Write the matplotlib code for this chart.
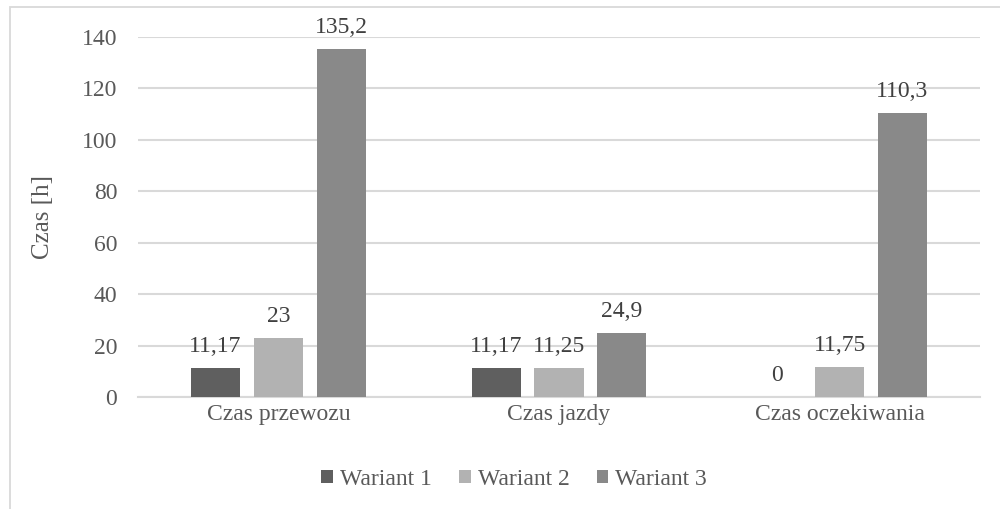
import numpy as np
import matplotlib.pyplot as plt
from matplotlib.patches import Rectangle

categories = ["Czas przewozu", "Czas jazdy", "Czas oczekiwania"]
series_names = ["Wariant 1", "Wariant 2", "Wariant 3"]
wariant_1 = [11.17, 11.17, 0]
wariant_2 = [23, 11.25, 11.75]
wariant_3 = [135.2, 24.9, 110.3]
labels_1 = ["11,17", "11,17", "0"]
labels_2 = ["23", "11,25", "11,75"]
labels_3 = ["135,2", "24,9", "110,3"]

colors = ["#5f5f5f", "#b2b2b2", "#898989"]
text_color = "#595959"
grid_color = "#d9d9d9"

plt.rcParams["font.family"] = ["Liberation Serif", "DejaVu Serif"]
fs = 17

fig = plt.figure(figsize=(10, 5.09), dpi=100)
ax = fig.add_axes([0.138, 0.22, 0.842, 0.7073])

# outer chart frame
fig.patches.append(Rectangle((0.0095, -0.5), 2, 1.4855, transform=fig.transFigure,
                             fill=False, edgecolor=grid_color, linewidth=1.3))

x = np.arange(len(categories))
step = 0.224
width = 0.175
all_vals = [wariant_1, wariant_2, wariant_3]
all_labels = [labels_1, labels_2, labels_3]

for k in range(3):
    pos = x + (k - 1) * step
    ax.bar(pos, all_vals[k], width, color=colors[k], label=series_names[k], zorder=3)
    for p, v, t in zip(pos, all_vals[k], all_labels[k]):
        ax.annotate(t, (p, v), xytext=(0, 11.5), textcoords="offset points",
                    ha="center", va="baseline", fontsize=fs, color="#404040", zorder=4)

ax.set_xlim(-0.5, 2.5)
ax.set_ylim(0, 140)
ax.set_yticks(range(0, 141, 20))
ax.set_xticks(x)
ax.set_xticklabels(categories)
ax.yaxis.grid(True, color=grid_color, linewidth=1.5, zorder=0)
ax.set_axisbelow(True)
for s in ["top", "right", "left"]:
    ax.spines[s].set_visible(False)
ax.spines["bottom"].set_color(grid_color)
ax.spines["bottom"].set_linewidth(1.5)
ax.tick_params(axis="both", length=0, labelsize=fs, labelcolor=text_color)
ax.tick_params(axis="y", pad=15)
ax.tick_params(axis="x", pad=5)
ax.set_ylabel("Czas [h]", fontsize=fs + 1, color=text_color, labelpad=20)

leg = fig.legend(loc="center", bbox_to_anchor=(0.514, 0.058), ncol=3, frameon=False,
                 fontsize=fs, handlelength=0.5, handleheight=0.5, handletextpad=0.3,
                 columnspacing=1.15)
for t in leg.get_texts():
    t.set_color(text_color)

fig.savefig("out.png", dpi=100)
